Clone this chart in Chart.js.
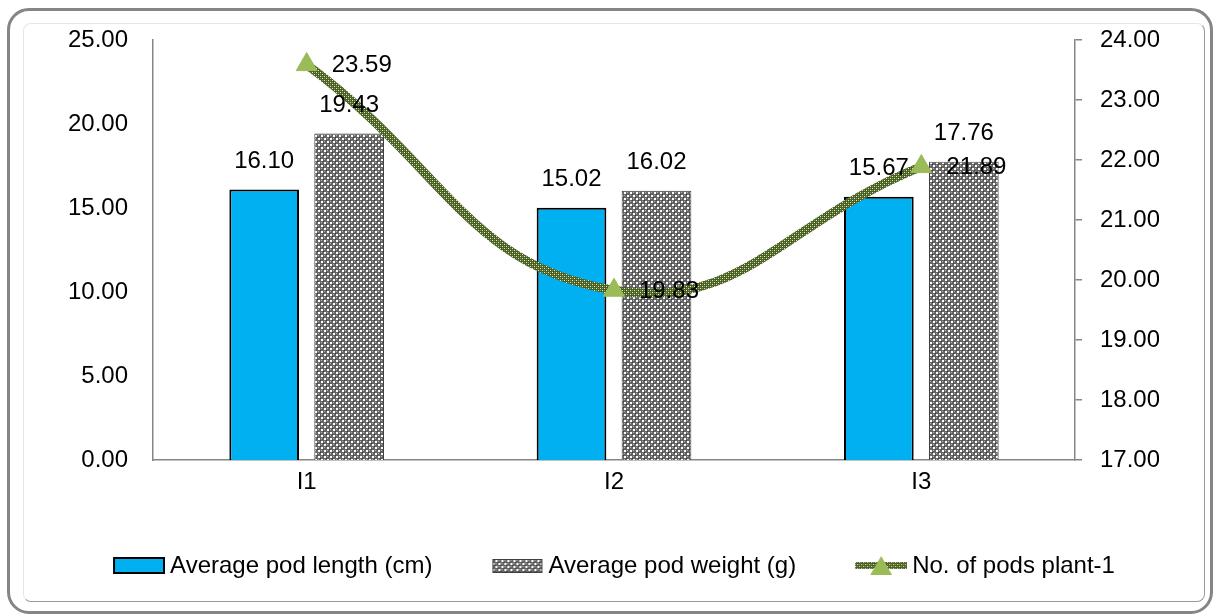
<!DOCTYPE html>
<html>
<head>
<meta charset="utf-8">
<script src="https://cdn.jsdelivr.net/npm/chart.js@4"></script>
<style>
    html, body { margin: 0; padding: 0; background: #fff; }
    #wrap { position: relative; width: 1215px; height: 616px; overflow: hidden; }
    .outer { position: absolute; left: 7px; top: 8px; width: 1200px; height: 600px;
        border: 3px solid #858585; border-radius: 22px; }
    .inner { position: absolute; left: 23px; top: 23px; width: 1180px; height: 577px;
        border: 1px solid #e6e6e6; border-right-color: #9a9a9a; border-bottom-color: #9a9a9a;
        border-radius: 8px; }
    canvas { position: absolute; left: 0; top: 0; }
</style>
</head>
<body>
<div id="wrap">
    <div class="outer"></div>
    <div class="inner"></div>
    <canvas id="chart" width="1215" height="616"></canvas>
</div>
<script>
// Dados: comprimento e peso médio da vagem (barras) e nº de vagens (linha, eixo direito)
const categories = ['I1', 'I2', 'I3'];
const podLength = [16.10, 15.02, 15.67];
const podWeight = [19.43, 16.02, 17.76];
const podsPerPlant = [23.59, 19.83, 21.89];
const seriesNames = ['Average pod length (cm)', 'Average pod weight (g)', 'No. of pods plant-1'];

const FONT = "'Liberation Sans', Arial, sans-serif";
const AXIS = '#868686';
const LEGEND_BOX = 94; // espaço reservado por item; o ícone (52px) fica encostado no texto

// textura cinza com pontos brancos (barra de peso)
function greyPattern() {
    const c = document.createElement('canvas');
    c.width = 6; c.height = 6;
    const g = c.getContext('2d');
    g.fillStyle = '#666666';
    g.fillRect(0, 0, 6, 6);
    g.fillStyle = '#ffffff';
    g.fillRect(0, 0, 2, 2);
    g.fillRect(3, 3, 2, 2);
    g.fillStyle = '#b4b4b4';
    g.fillRect(3, 0, 1, 1);
    g.fillRect(0, 3, 1, 1);
    g.fillStyle = '#3c3c3c';
    g.fillRect(2, 2, 1, 1);
    g.fillRect(5, 5, 1, 1);
    return g.createPattern(c, 'repeat');
}

// textura verde-oliva da linha
function olivePattern() {
    const c = document.createElement('canvas');
    c.width = 4; c.height = 4;
    const g = c.getContext('2d');
    g.fillStyle = '#4a5f24';
    g.fillRect(0, 0, 4, 4);
    g.fillStyle = '#e3ebcd';
    g.fillRect(0, 0, 1, 1);
    g.fillRect(2, 2, 1, 1);
    g.fillStyle = '#889c58';
    g.fillRect(2, 0, 1, 1);
    g.fillRect(0, 2, 1, 1);
    return g.createPattern(c, 'repeat');
}

const greyFill = greyPattern();
const oliveLine = olivePattern();

// ícones da legenda: canvas um pouco mais largo que a caixa, ícone à direita
function legendIcon(kind) {
    const W = LEGEND_BOX + 14;
    const c = document.createElement('canvas');
    c.width = W; c.height = 24;
    const g = c.getContext('2d');
    const x0 = W - 52;
    if (kind === 'blue') {
        g.fillStyle = '#00B0F0';
        g.fillRect(x0 + 1, 4, 50, 15);
        g.strokeStyle = '#000'; g.lineWidth = 2;
        g.strokeRect(x0 + 1, 4, 50, 15);
    } else if (kind === 'grey') {
        g.fillStyle = greyPattern();
        g.fillRect(x0 + 1, 5, 50, 14);
        g.strokeStyle = '#404040'; g.lineWidth = 1;
        g.strokeRect(x0 + 1.5, 5.5, 49, 13);
    } else {
        g.fillStyle = olivePattern();
        g.fillRect(x0, 8, 52, 7);
        g.fillStyle = '#9BBB59';
        g.beginPath();
        g.moveTo(x0 + 26, 2); g.lineTo(x0 + 37, 21); g.lineTo(x0 + 15, 21);
        g.closePath(); g.fill();
    }
    return c;
}
const icons = [legendIcon('blue'), legendIcon('grey'), legendIcon('line')];

const valueLabels = {
    id: 'valueLabels',
    afterDatasetsDraw(chart) {
        const { ctx } = chart;
        ctx.save();
        ctx.font = `24px ${FONT}`;
        ctx.fillStyle = '#000';
        ctx.textBaseline = 'middle';
        chart.data.datasets.forEach((ds, i) => {
            chart.getDatasetMeta(i).data.forEach((el, j) => {
                const txt = ds.data[j].toFixed(2);
                if (ds.type === 'line') {
                    ctx.textAlign = 'left';
                    ctx.fillText(txt, el.x + 25, el.y + 1);
                } else {
                    ctx.textAlign = 'center';
                    ctx.fillText(txt, el.x, el.y - 28);
                }
            });
        });
        ctx.restore();
    },
};

new Chart(document.getElementById('chart'), {
    data: {
        labels: categories,
        datasets: [
            {
                type: 'line',
                label: seriesNames[2],
                data: podsPerPlant,
                yAxisID: 'y1',
                order: 0,
                borderColor: oliveLine,
                borderWidth: 9,
                tension: 0.45,
                pointStyle: 'triangle',
                pointRadius: 12,
                pointBackgroundColor: '#9BBB59',
                pointBorderColor: '#9BBB59',
                pointBorderWidth: 1,
            },
            {
                type: 'bar',
                label: seriesNames[0],
                data: podLength,
                yAxisID: 'y',
                order: 1,
                backgroundColor: '#00B0F0',
                borderColor: '#000',
                borderWidth: 2,
                categoryPercentage: 0.553,
                barPercentage: 0.82,
            },
            {
                type: 'bar',
                label: seriesNames[1],
                data: podWeight,
                yAxisID: 'y',
                order: 1,
                backgroundColor: greyFill,
                borderColor: '#404040',
                borderWidth: 1,
                categoryPercentage: 0.553,
                barPercentage: 0.82,
            },
        ],
    },
    options: {
        responsive: false,
        animation: false,
        layout: { padding: { left: 20, right: 56, top: 40, bottom: 28 } },
        font: { family: FONT },
        plugins: {
            tooltip: { enabled: false },
            legend: {
                position: 'bottom',
                labels: {
                    color: '#000',
                    font: { family: FONT, size: 24 },
                    usePointStyle: true,
                    pointStyleWidth: LEGEND_BOX,
                    padding: 10,
                    generateLabels: () => [1, 2, 0].map((di, k) => ({
                        text: seriesNames[k],
                        pointStyle: icons[k],
                        fillStyle: '#fff',
                        strokeStyle: '#fff',
                        lineWidth: 0,
                        hidden: false,
                        datasetIndex: di,
                        fontColor: '#000',
                    })),
                },
            },
        },
        scales: {
            x: {
                grid: { display: false, drawTicks: false },
                border: { display: true, color: AXIS, width: 1.5 },
                ticks: { color: '#000', font: { family: FONT, size: 24 }, padding: 8 },
                afterFit: (s) => { s.height = 84; },
            },
            y: {
                position: 'left',
                min: 0,
                max: 25,
                grid: { display: false, drawTicks: false },
                border: { display: true, color: AXIS, width: 1.5 },
                ticks: {
                    stepSize: 5,
                    color: '#000',
                    font: { family: FONT, size: 24 },
                    padding: 25,
                    callback: (v) => v.toFixed(2),
                },
                afterFit: (s) => { s.width = 133; },
            },
            y1: {
                position: 'right',
                min: 17,
                max: 24,
                grid: { display: true, drawOnChartArea: false, drawTicks: true, tickLength: 7, color: AXIS, lineWidth: 1.5 },
                border: { display: true, color: AXIS, width: 1.5 },
                ticks: {
                    stepSize: 1,
                    color: '#000',
                    font: { family: FONT, size: 24 },
                    padding: 18,
                    callback: (v) => v.toFixed(2),
                },
                afterFit: (s) => { s.width = 84; },
            },
        },
    },
    plugins: [valueLabels],
});
</script>
</body>
</html>
